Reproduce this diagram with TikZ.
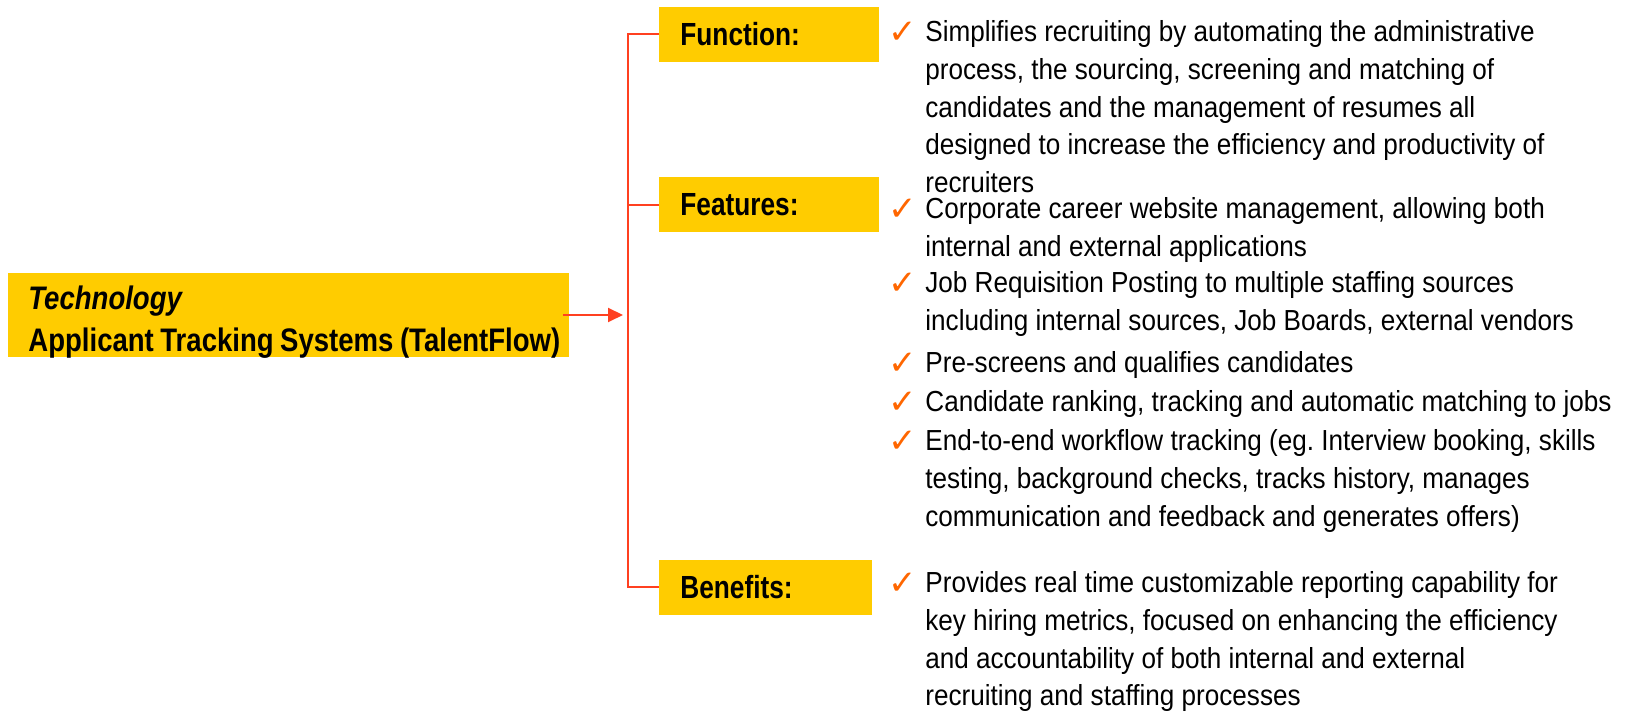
\documentclass[tikz,border=0pt]{standalone}
\usepackage{fontspec}
\usetikzlibrary{arrows.meta}
\newfontfamily\narrowfont[FakeStretch=0.82]{Liberation Sans}
\newfontfamily\boxfont[FakeStretch=0.845]{Liberation Sans}
\newfontfamily\plainfont[FakeStretch=0.9]{Liberation Sans}
\newfontfamily\tickfont{DejaVu Sans}
\definecolor{boxyellow}{RGB}{255,204,0}
\definecolor{linkred}{RGB}{255,64,32}
\definecolor{tickorange}{RGB}{255,102,0}
\frenchspacing

\begin{document}
\begin{tikzpicture}[x=0.5pt, y=-0.5pt,
    heading/.style={fill=boxyellow, anchor=west, minimum height=27.5pt, text width=89pt, inner xsep=10.5pt, inner ysep=0pt, align=left, font=\narrowfont\bfseries\fontsize{16}{19}\selectfont},
    bullet/.style={anchor=north west, inner sep=0pt, align=left, font=\plainfont\fontsize{14.5}{18.8}\selectfont},
    tick/.style={anchor=base, inner sep=0pt, text=tickorange, font=\tickfont\fontsize{17}{17}\selectfont},
    link/.style={draw=linkred, line width=1pt}]
    \useasboundingbox (0,0) rectangle (1629,715);
    % system node
    \node[fill=boxyellow, anchor=west, minimum width=280.5pt, minimum height=42pt] (techbox) at (8,315) {};
    \node[anchor=west, inner sep=0pt, text width=300pt, align=left, font=\boxfont\bfseries\fontsize{16.3}{20.8}\selectfont] (tech) at (28,322) {\spaceskip=0.2em\relax{\itshape Technology}\\Applicant Tracking Systems (TalentFlow)};
    % heading nodes
    \node[heading] (func) at (659,34.5) {Function:};
    \node[heading] (feat) at (659,205) {Features:};
    \node[heading, text width=85.5pt] (bene) at (659,587.5) {Benefits:};
    \coordinate (split) at (628,315);
    % function text
    \node[tick] (tk1) at (903,43.5) {✓};
    \node[bullet] (fn1) at (925,20.5) {Simplifies recruiting by automating the administrative\\process, the sourcing, screening and matching of\\candidates and the management of resumes all\\designed to increase the efficiency and productivity of\\recruiters};
    % feature text
    \node[tick] (tk2) at (903,220.5) {✓};
    \node[bullet] (ft1) at (925,197.5) {Corporate career website management, allowing both\\internal and external applications};
    \node[tick] (tk3) at (903,294.5) {✓};
    \node[bullet] (ft2) at (925,271.5) {Job Requisition Posting to multiple staffing sources\\including internal sources, Job Boards, external vendors};
    \node[tick] (tk4) at (903,374.5) {✓};
    \node[bullet] (ft3) at (925,351.5) {Pre-screens and qualifies candidates};
    \node[tick] (tk5) at (903,413.5) {✓};
    \node[bullet] (ft4) at (925,390.5) {Candidate ranking, tracking and automatic matching to jobs};
    \node[tick] (tk6) at (903,452.5) {✓};
    \node[bullet] (ft5) at (925,429.5) {End-to-end workflow tracking (eg. Interview booking, skills\\testing, background checks, tracks history, manages\\communication and feedback and generates offers)};
    % benefit text
    \node[tick] (tk7) at (903,594.5) {✓};
    \node[bullet] (bn1) at (925,571.5) {Provides real time customizable reporting capability for\\key hiring metrics, focused on enhancing the efficiency\\and accountability of both internal and external\\recruiting and staffing processes};
    % connectors
    \draw[link] (func.west) -| (split) |- (bene.west);
    \draw[link] (feat.west) -- (feat.west -| split);
    \draw[link, -{Triangle[length=7.5pt, width=7pt]}] ([xshift=-3.5pt]techbox.east) -- ([xshift=-2.5pt]split);
\end{tikzpicture}
\end{document}
